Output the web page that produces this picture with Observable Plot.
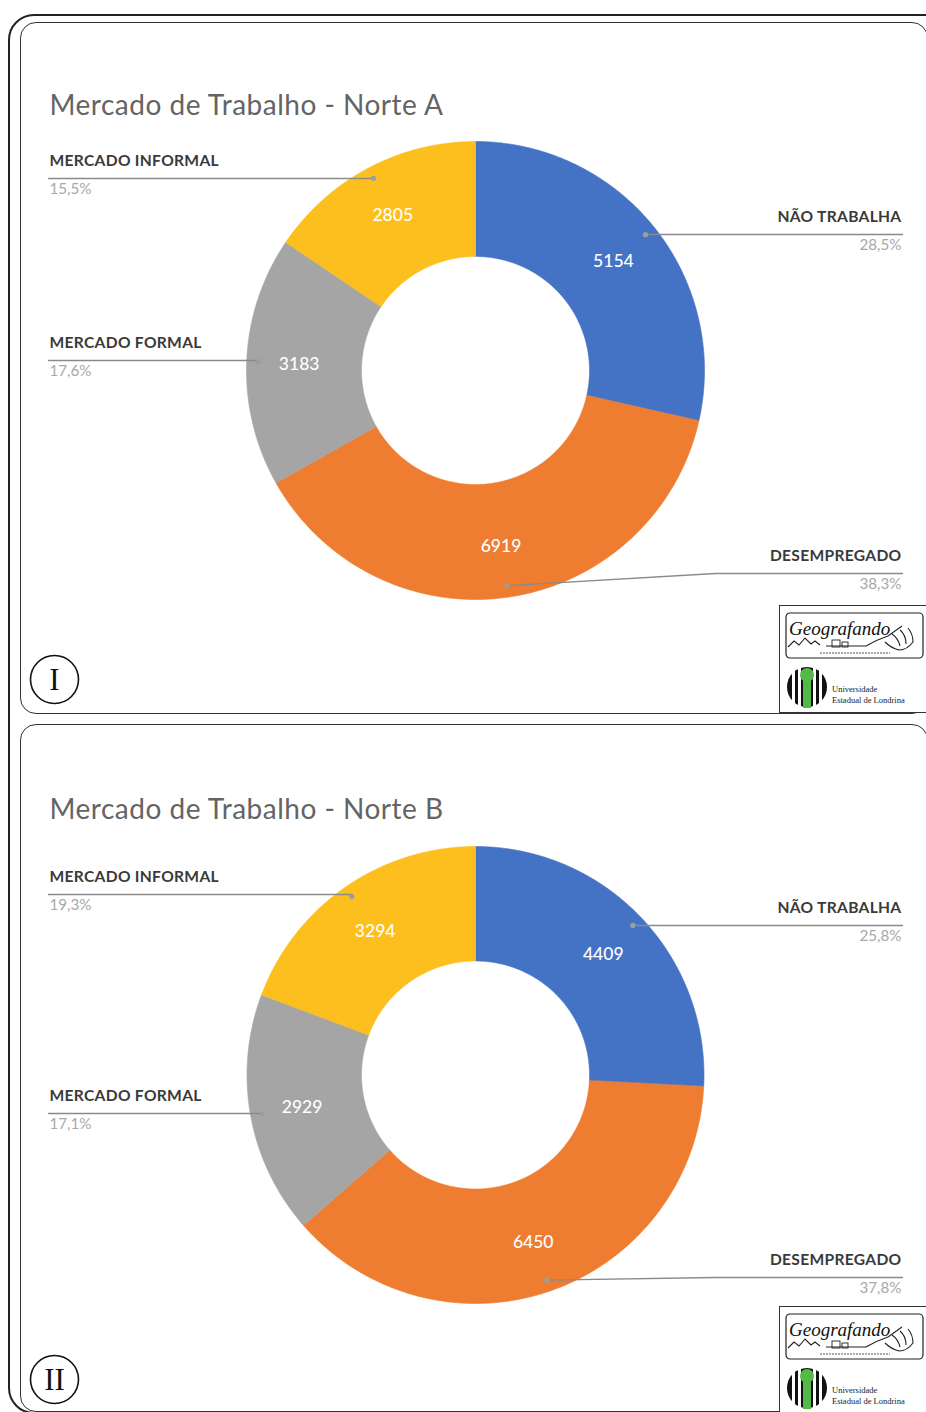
<!DOCTYPE html>
<html><head><meta charset="utf-8">
<script src="https://cdn.jsdelivr.net/npm/d3@7"></script>
<script src="https://cdn.jsdelivr.net/npm/@observablehq/plot@0.6"></script>
<style>
body{margin:0;background:#fff;}
#page{position:relative;width:926px;height:1412px;overflow:hidden;background:#fff;}
.outer{position:absolute;left:8px;top:14px;width:960px;height:1400px;border:2px solid #222;border-radius:26px;box-sizing:border-box;}
.panel{position:absolute;left:20px;width:908px;border:1.5px solid #333;border-radius:16px;box-sizing:border-box;}
.logobox{position:absolute;left:779px;width:160px;height:108px;border:1.2px solid #333;box-sizing:border-box;background:#fff;}
.chart{position:absolute;left:0;}
</style></head>
<body><div id="page">
<div class="outer"></div>
<div class="panel" style="top:22px;height:692px"></div>
<div class="panel" style="top:724px;height:688px"></div>
</div>
<script>
const categories = ["NÃO TRABALHA", "DESEMPREGADO", "MERCADO FORMAL", "MERCADO INFORMAL"];
const colors = ["#4472C4", "#EE7D31", "#A5A5A5", "#FCBF1E"];
const valuesA = [5154, 6919, 3183, 2805];
const valuesB = [4409, 6450, 2929, 3294];
const titles = ["Mercado de Trabalho - Norte A", "Mercado de Trabalho - Norte B"];
const numerals = ["I", "II"];

// layout (positions in page pixels)
const layouts = [
  {y0: 0, cx: 475, cy: 370, R: 229, r: 114, titleY: 106, numY: 679, logoTop: 605,
   labels: [{side: "right", lineY: 234}, {side: "right", lineY: 573, elbow: 715},
            {side: "left", lineY: 360}, {side: "left", lineY: 178}]},
  {y0: 706, cx: 475, cy: 1074.5, R: 228.5, r: 114, titleY: 810, numY: 1379, logoTop: 1306,
   labels: [{side: "right", lineY: 925}, {side: "right", lineY: 1277, elbow: 715},
            {side: "left", lineY: 1113}, {side: "left", lineY: 894}]}
];
const FONT = "Lato, 'Open Sans', sans-serif";
const fmtPct = v => d3.format(".1f")(v).replace(".", ",") + "%";

function drawPanel(values, L, idx) {
  const total = d3.sum(values);
  const arcs = d3.pie().sort(null).value(d => d)(values);
  const slices = [], valueLabels = [], dots = [], leaders = [], catLabels = [], pctLabels = [];
  arcs.forEach((a, i) => {
    const cat = categories[i];
    const n = Math.max(4, Math.ceil((a.endAngle - a.startAngle) / 0.01));
    for (let k = 0; k <= n; k++) {
      const t = a.startAngle + (a.endAngle - a.startAngle) * k / n;
      slices.push({cat, x: L.cx + L.R * Math.sin(t), y: L.cy - L.R * Math.cos(t)});
    }
    for (let k = n; k >= 0; k--) {
      const t = a.startAngle + (a.endAngle - a.startAngle) * k / n;
      slices.push({cat, x: L.cx + L.r * Math.sin(t), y: L.cy - L.r * Math.cos(t)});
    }
    const mid = (a.startAngle + a.endAngle) / 2;
    const rl = (L.R + L.r) / 2 + 5;
    valueLabels.push({x: L.cx + rl * Math.sin(mid), y: L.cy - rl * Math.cos(mid) + 1, text: String(values[i])});
    const rd = L.R * 0.95;
    const dx = L.cx + rd * Math.sin(mid), dy = L.cy - rd * Math.cos(mid);
    dots.push({x: dx, y: dy});
    const lab = L.labels[i];
    const endX = lab.side === "right" ? 902 : 48;
    const elbow = lab.elbow ?? dx;
    leaders.push({cat, x: dx, y: dy}, {cat, x: elbow, y: lab.lineY}, {cat, x: endX, y: lab.lineY});
    const tx = lab.side === "right" ? 901 : 49;
    const anchor = lab.side === "right" ? "end" : "start";
    catLabels.push({x: tx, y: lab.lineY - 17.5, text: cat, anchor});
    pctLabels.push({x: tx, y: lab.lineY + 10.5, text: fmtPct(values[i] / total * 100), anchor});
  });

  const plot = Plot.plot({
    width: 926, height: 706, margin: 0,
    style: {background: "transparent", overflow: "visible"},
    x: {type: "linear", domain: [0, 926], range: [0, 926], axis: null},
    y: {type: "linear", domain: [L.y0, L.y0 + 706], range: [0, 706], axis: null},
    color: {domain: categories, range: colors},
    marks: [
      Plot.line(slices, {x: "x", y: "y", z: "cat", fill: "cat", stroke: "cat", strokeWidth: 0.6, curve: "linear-closed"}),
      Plot.text(valueLabels, {x: "x", y: "y", text: "text", fill: "white", fontSize: 17.5, fontWeight: 500, fontFamily: FONT}),
      Plot.line(leaders, {x: "x", y: "y", z: "cat", stroke: "#8a8a8a", strokeWidth: 1.3}),
      Plot.dot(dots, {x: "x", y: "y", r: 2.6, fill: "#9d9d9d", stroke: null}),
      Plot.text(catLabels.filter(d => d.anchor === "start"), {x: "x", y: "y", text: "text", textAnchor: "start", fill: "#3a3a3a", fontSize: 15.6, fontWeight: "bold", fontFamily: FONT}),
      Plot.text(catLabels.filter(d => d.anchor === "end"), {x: "x", y: "y", text: "text", textAnchor: "end", fill: "#3a3a3a", fontSize: 15.6, fontWeight: "bold", fontFamily: FONT}),
      Plot.text(pctLabels.filter(d => d.anchor === "start"), {x: "x", y: "y", text: "text", textAnchor: "start", fill: "#a8a8a8", fontSize: 15.2, fontFamily: FONT}),
      Plot.text(pctLabels.filter(d => d.anchor === "end"), {x: "x", y: "y", text: "text", textAnchor: "end", fill: "#a8a8a8", fontSize: 15.2, fontFamily: FONT}),
      Plot.text([titles[idx]], {x: 49, y: L.titleY, text: d => d, textAnchor: "start", fill: "#646464", fontSize: 28, fontFamily: FONT}),
      Plot.dot([0], {x: 54, y: L.numY, r: 24, stroke: "#111", strokeWidth: 1.6, fill: "white"}),
      Plot.text([numerals[idx]], {x: 54, y: L.numY + 1, text: d => d, fill: "#111", fontSize: 31, fontFamily: "'Liberation Serif', 'DejaVu Serif', serif"})
    ]
  });
  plot.querySelectorAll('g[font-size="28"]').forEach(g => g.style.letterSpacing = "0.5px");
  plot.querySelectorAll('g[font-size="15.6"]').forEach(g => g.style.letterSpacing = "0.3px");
  plot.classList.add("chart");
  plot.style.top = L.y0 + "px";
  plot.style.position = "absolute";
  document.getElementById("page").appendChild(plot);

  // logo box
  const box = document.createElement("div");
  box.className = "logobox";
  box.style.top = L.logoTop + "px";
  box.innerHTML = `<svg width="160" height="108" style="position:absolute;left:0;top:0">
    <rect x="6" y="7" width="137" height="45" rx="4" fill="white" stroke="#222" stroke-width="1.2"/>
    <text x="9" y="29" font-family="'Liberation Serif',serif" font-style="italic" font-size="19" fill="#111">Geografando</text>
    <path d="M8 41 l6 -6 l5 4 l6 -7 l6 6 l4 -3 l5 4 M46 40 h40 q10 -6 22 -10 l14 -10 M112 28 q6 4 8 12 M120 24 q6 5 6 14 M128 22 q5 6 5 14 q-6 8 -14 8 q-8 -2 -14 -8" fill="none" stroke="#222" stroke-width="1.1"/>
    <rect x="52" y="34" width="8" height="7" fill="none" stroke="#222" stroke-width="0.9"/>
    <rect x="62" y="36" width="6" height="5" fill="none" stroke="#222" stroke-width="0.9"/>
    <line x1="40" y1="47" x2="110" y2="47" stroke="#555" stroke-width="1" stroke-dasharray="2 1"/>
    <circle cx="27" cy="81" r="20" fill="#111"/>
    <rect x="12" y="60" width="3" height="42" fill="white"/>
    <rect x="18" y="60" width="3" height="42" fill="white"/>
    <rect x="33" y="60" width="3" height="42" fill="white"/>
    <rect x="39" y="60" width="3" height="42" fill="white"/>
    <rect x="23" y="68" width="8" height="34" fill="#55B947"/>
    <circle cx="27" cy="69" r="7" fill="#55B947"/>
    <text x="52" y="86" font-family="'Liberation Serif',serif" font-size="8.5" fill="#222">Universidade</text>
    <text x="52" y="97" font-family="'Liberation Serif',serif" font-size="8.5" fill="#222">Estadual de Londrina</text>
  </svg>`;
  document.getElementById("page").appendChild(box);
}
drawPanel(valuesA, layouts[0], 0);
drawPanel(valuesB, layouts[1], 1);
</script>
</body></html>
